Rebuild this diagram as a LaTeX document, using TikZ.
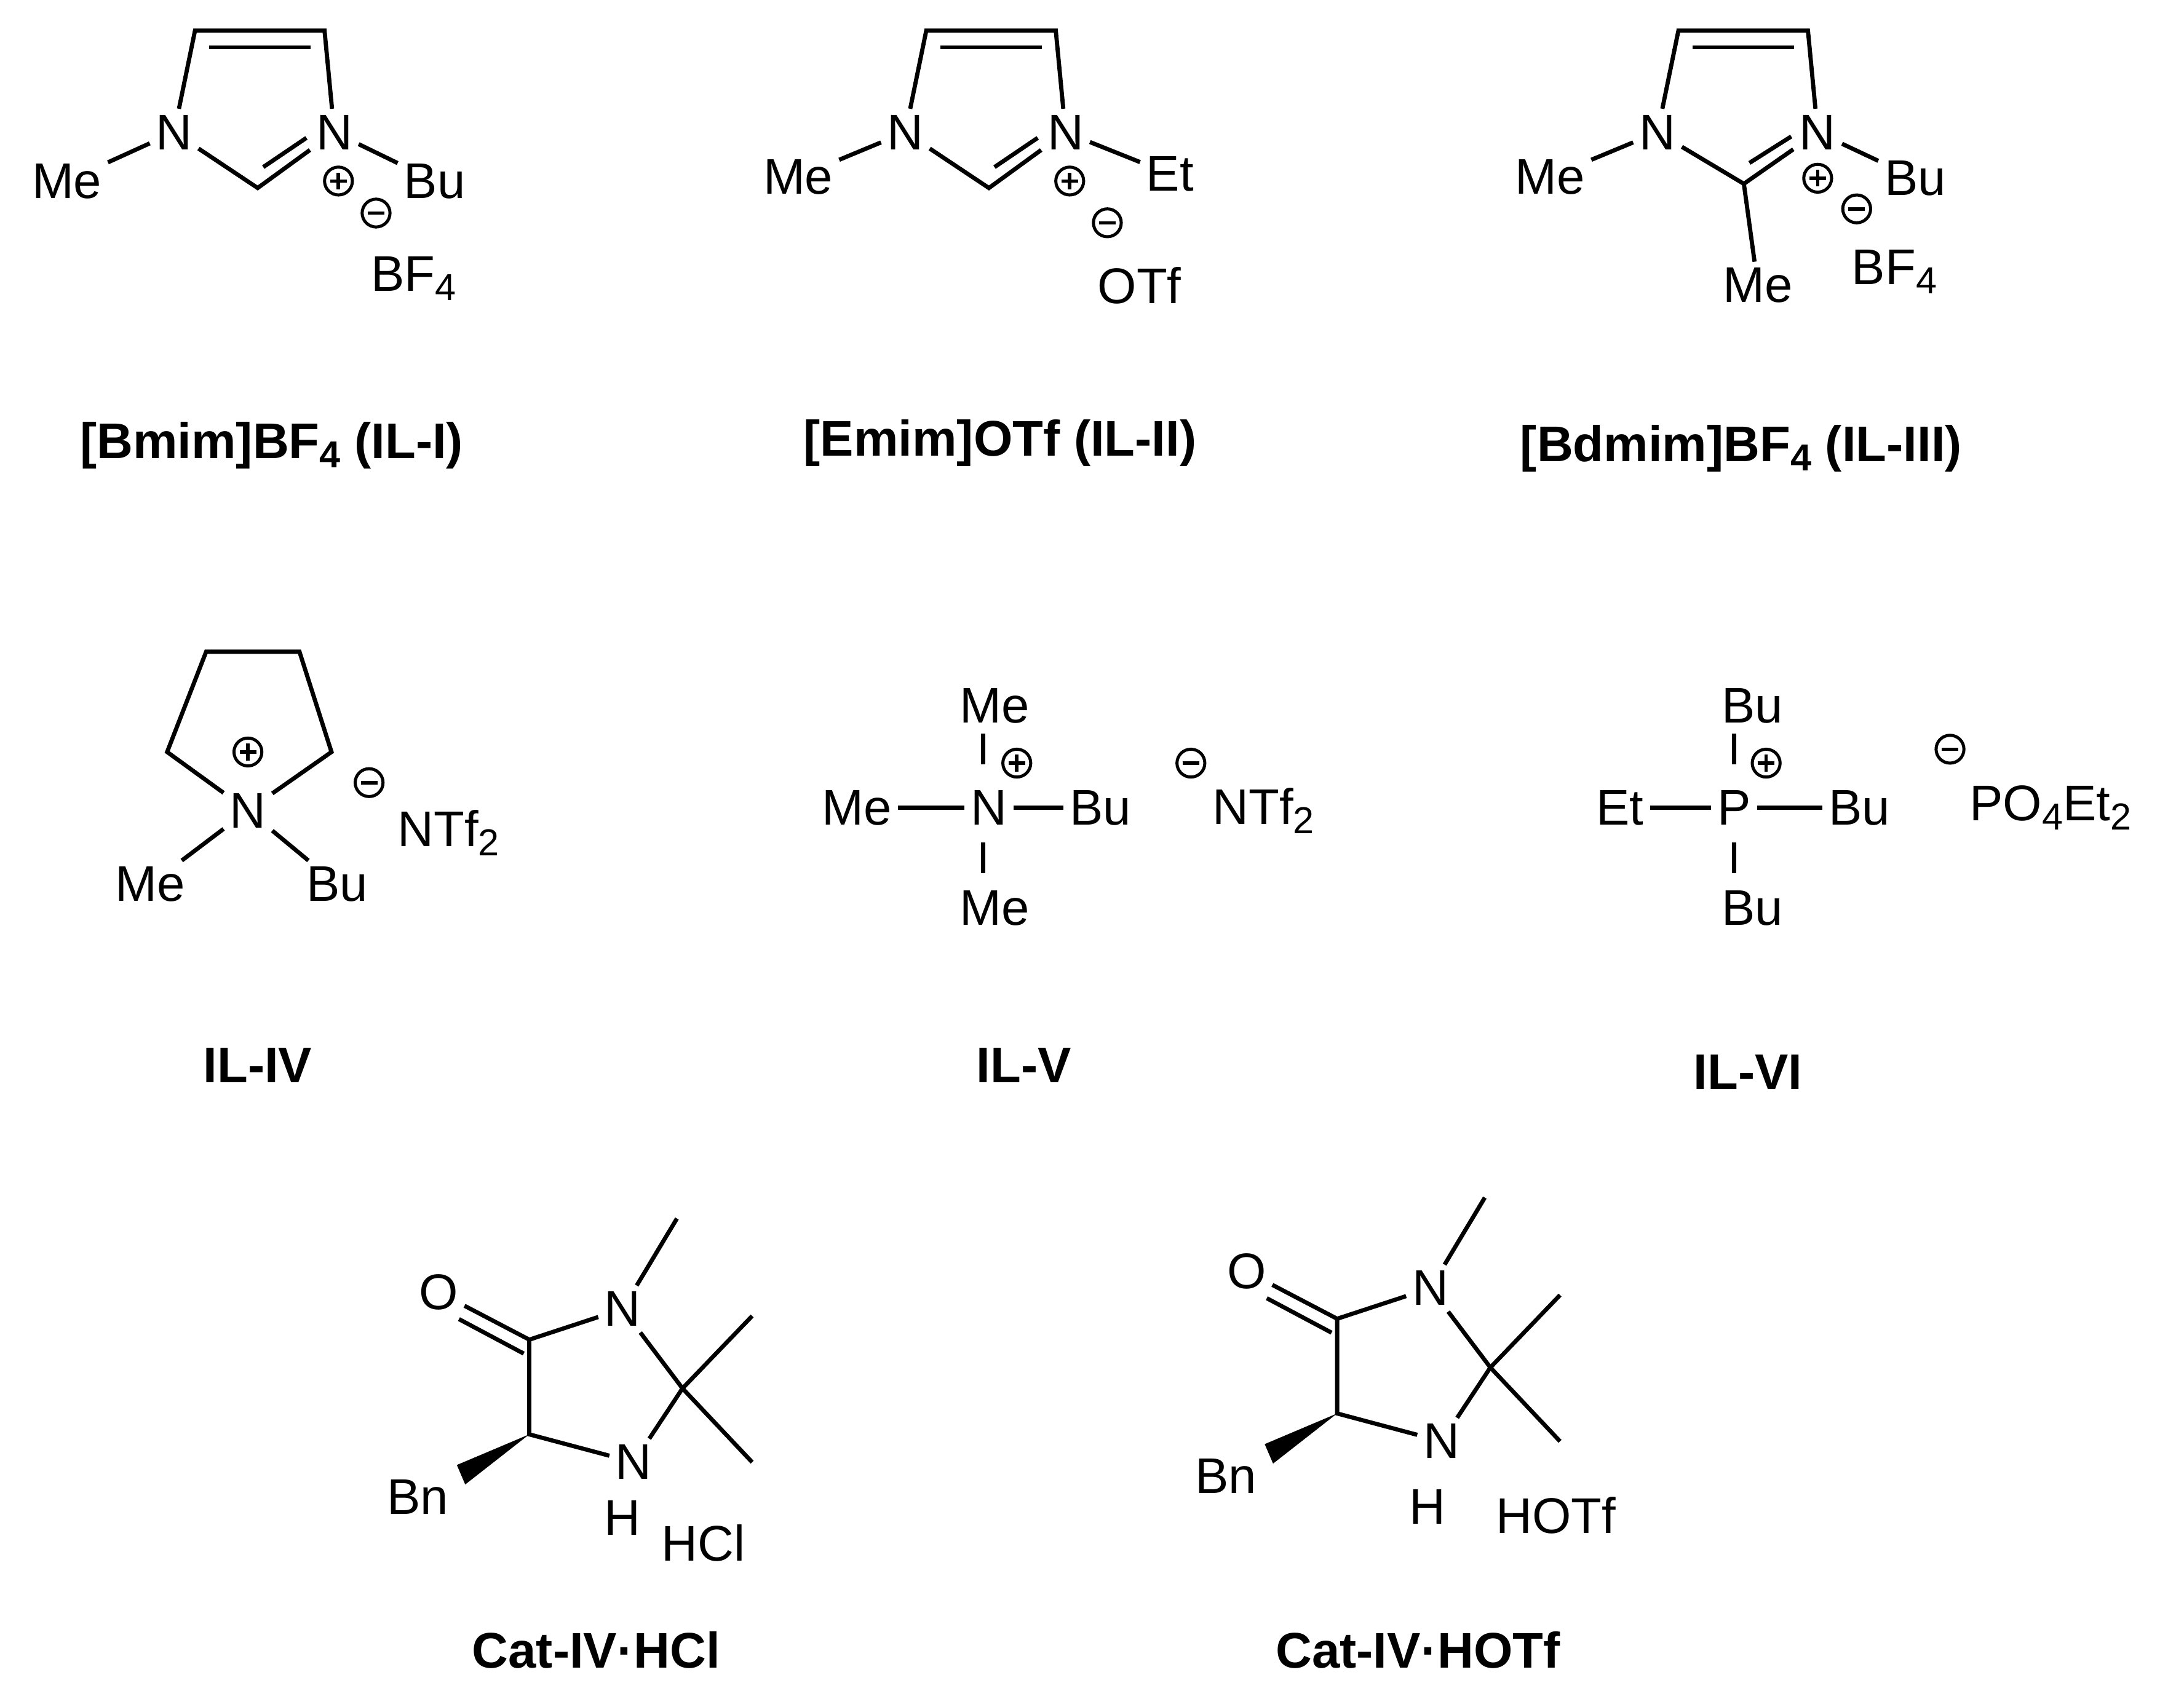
\documentclass[tikz,border=0pt]{standalone}
\usepackage{fontspec}
\setmainfont{Liberation Sans}
\usetikzlibrary{calc}
\newcommand{\sbs}[1]{\raisebox{-0.35ex}{\fontsize{27}{30}\selectfont #1}}
\begin{document}
\begin{tikzpicture}[x=1pt,y=-1pt,line width=3pt,
  atom/.style={inner sep=3pt,font=\fontsize{36}{40}\selectfont},
  lbl/.style={font=\fontsize{36}{40}\selectfont\bfseries},
  chg/.style={circle,draw,line width=2.2pt,minimum size=20pt,inner sep=0pt},
  bnd/.style={line width=3pt}]
\useasboundingbox (0,0) rectangle (1568,1214);
\newcommand{\pluscharge}[2]{\node[chg] (#1) at #2 {}; \draw[line width=2.5pt] ($(#1)+(-6,0)$) -- ($(#1)+(6,0)$) ($(#1)+(0,-6)$) -- ($(#1)+(0,6)$);}
\newcommand{\minuscharge}[2]{\node[chg] (#1) at #2 {}; \draw[line width=2.5pt] ($(#1)+(-6,0)$) -- ($(#1)+(6,0)$);}
% ---------- IL-I
\begin{scope}[shift={(125,95)}]
 \node[atom] (a1) at (0,0) {N}; \node[atom] (a3) at (115,0) {N};
 \coordinate (a4) at (15,-73); \coordinate (a5) at (108,-73); \coordinate (a2) at (60,40);
 \draw (a1) -- (a4) -- (a5) -- (a3); \draw (a1) -- (a2) -- (a3);
 \draw (25,-61) -- (98,-61); \draw (64,25) -- (95,4);
 \node[atom] (ame) at (-77,35) {Me}; \node[atom] (abu) at (187,35) {Bu};
 \draw (ame) -- (a1); \draw (a3) -- (abu);
 \pluscharge{ap}{(118,35)} \minuscharge{am}{(145,58)}
 \node[atom] (abf) at (172,105) {BF\sbs{4}};
\end{scope}
\node[lbl] (l1) at (195,320) {[Bmim]BF\sbs{4} (IL-I)};
% ---------- IL-II
\begin{scope}[shift={(650,95)}]
 \node[atom] (b1) at (0,0) {N}; \node[atom] (b3) at (115,0) {N};
 \coordinate (b4) at (15,-73); \coordinate (b5) at (108,-73); \coordinate (b2) at (60,40);
 \draw (b1) -- (b4) -- (b5) -- (b3); \draw (b1) -- (b2) -- (b3);
 \draw (25,-61) -- (98,-61); \draw (64,25) -- (95,4);
 \node[atom] (bme) at (-77,32) {Me}; \node[atom] (bet) at (190,30) {Et};
 \draw (bme) -- (b1); \draw (b3) -- (bet);
 \pluscharge{bp}{(118,35)} \minuscharge{bm}{(145,65)}
 \node[atom] (bot) at (168,110) {OTf};
\end{scope}
\node[lbl] (l2) at (718,318) {[Emim]OTf (IL-II)};
% ---------- IL-III
\begin{scope}[shift={(1190,95)}]
 \node[atom] (c1) at (0,0) {N}; \node[atom] (c3) at (115,0) {N};
 \coordinate (c4) at (15,-73); \coordinate (c5) at (108,-73); \coordinate (c2) at (62,37);
 \draw (c1) -- (c4) -- (c5) -- (c3); \draw (c1) -- (c2) -- (c3);
 \draw (25,-61) -- (98,-61); \draw (66,22) -- (96,3);
 \node[atom] (cme) at (-77,32) {Me}; \node[atom] (cbu) at (185,33) {Bu};
 \node[atom] (cme2) at (72,110) {Me};
 \draw (cme) -- (c1); \draw (c3) -- (cbu); \draw (c2) -- (cme2);
 \pluscharge{cp}{(115,33)} \minuscharge{cm}{(143,55)}
 \node[atom] (cbf) at (170,100) {BF\sbs{4}};
\end{scope}
\node[lbl] (l3) at (1250,322) {[Bdmim]BF\sbs{4} (IL-III)};
% ---------- IL-IV
\node[atom] (dn) at (178,582) {N};
\coordinate (d1) at (120,540); \coordinate (d2) at (148,468); \coordinate (d3) at (215,468); \coordinate (d4) at (238,540);
\draw (dn) -- (d1) -- (d2) -- (d3) -- (d4) -- (dn);
\pluscharge{dp}{(178,540)}
\node[atom] (dme) at (108,635) {Me}; \node[atom] (dbu) at (242,635) {Bu};
\draw (dn) -- (dme); \draw (dn) -- (dbu);
\minuscharge{dm}{(265,562)}
\node[atom] (dnt) at (322,598) {NTf\sbs{2}};
\node[lbl] (l4) at (185,765) {IL-IV};
% ---------- IL-V
\node[atom] (en) at (710,580) {N};
\node[atom] (eme1) at (615,580) {Me}; \node[atom] (ebu) at (790,580) {Bu};
\node[atom] (eme2) at (714,507) {Me}; \node[atom] (eme3) at (714,652) {Me};
\draw (eme1) -- (en) -- (ebu);
\draw (706,527) -- (706,549); \draw (706,605) -- (706,627);
\pluscharge{ep}{(730,548)} \minuscharge{em}{(855,548)}
\node[atom] (ent) at (907,582) {NTf\sbs{2}};
\node[lbl] (l5) at (735,765) {IL-V};
% ---------- IL-VI
\node[atom] (fp) at (1245,580) {P};
\node[atom] (fet) at (1163,580) {Et}; \node[atom] (fbu1) at (1335,580) {Bu};
\node[atom] (fbu2) at (1258,507) {Bu}; \node[atom] (fbu3) at (1258,652) {Bu};
\draw (fet) -- (fp) -- (fbu1);
\draw (1245,527) -- (1245,549); \draw (1245,605) -- (1245,627);
\pluscharge{fpl}{(1268,548)} \minuscharge{fm}{(1400,538)}
\node[atom] (fpo) at (1472,580) {PO\sbs{4}Et\sbs{2}};
\node[lbl] (l6) at (1255,770) {IL-VI};
% ---------- Cat-IV HCl
\begin{scope}[shift={(0,0)}]
 \node[atom] (go) at (315,928) {O}; \coordinate (gc5) at (380,962);
 \node[atom] (gn) at (447,940) {N}; \coordinate (gc2) at (490,997);
 \node[atom] (gnh) at (455,1050) {N}; \coordinate (gc4) at (380,1030);
 \node[atom] (gh) at (447,1090) {H};
 \draw (go) -- (gc5); \draw ($(go.south east)+(-4,2)$) -- (376,972);
 \draw (gc5) -- (gn) -- (gc2) -- (gnh) -- (gc4) -- (gc5);
 \draw (gn) -- (486,875); \draw (gc2) -- (540,945); \draw (gc2) -- (540,1050);
 \node[atom] (gbn) at (300,1075) {Bn};
 \fill (gc4) -- (328,1052) -- (334,1066) -- cycle;
 \node[atom] (ghcl) at (505,1108) {HCl};
\end{scope}
\node[lbl] (l7) at (428,1185) {Cat-IV·HCl};
% ---------- Cat-IV HOTf
\begin{scope}[shift={(580,-15)}]
 \node[atom] (ho) at (315,928) {O}; \coordinate (hc5) at (380,962);
 \node[atom] (hn) at (447,940) {N}; \coordinate (hc2) at (490,997);
 \node[atom] (hnh) at (455,1050) {N}; \coordinate (hc4) at (380,1030);
 \node[atom] (hh) at (445,1097) {H};
 \draw (ho) -- (hc5); \draw ($(ho.south east)+(-4,2)$) -- (376,972);
 \draw (hc5) -- (hn) -- (hc2) -- (hnh) -- (hc4) -- (hc5);
 \draw (hn) -- (486,875); \draw (hc2) -- (540,945); \draw (hc2) -- (540,1050);
 \node[atom] (hbn) at (300,1075) {Bn};
 \fill (hc4) -- (328,1052) -- (334,1066) -- cycle;
 \node[atom] (hhotf) at (537,1103) {HOTf};
\end{scope}
\node[lbl] (l8) at (1018,1185) {Cat-IV·HOTf};
\end{tikzpicture}
\end{document}
